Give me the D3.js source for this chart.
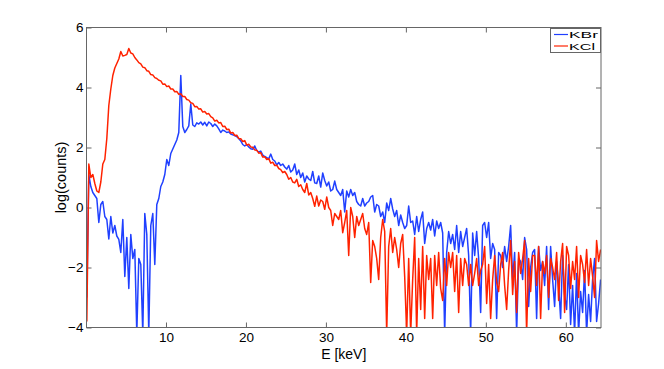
<!DOCTYPE html>
<html><head><meta charset="utf-8">
<script src="https://cdn.jsdelivr.net/npm/d3@7"></script>
<style>
html,body{margin:0;padding:0;background:#fff;}
svg{display:block;}
text{font-family:"Liberation Sans",Arial,Helvetica,sans-serif;fill:#000;}
</style>
</head><body>
<svg id="chart" width="664" height="369"></svg>
<script>
const energyKeV = [
0.1,0.35,0.6,0.85,1.1,1.35,1.6,1.85,
2.1,2.35,2.6,2.85,3.1,3.35,3.6,3.85,
4.1,4.35,4.6,4.85,5.1,5.35,5.6,5.85,
6.1,6.35,6.6,6.85,7.1,7.35,7.6,7.85,
8.1,8.35,8.6,8.85,9.1,9.35,9.6,9.85,
10.1,10.35,10.6,10.85,11.1,11.35,11.6,11.85,
12.1,12.35,12.6,12.85,13.1,13.35,13.6,13.85,
14.1,14.35,14.6,14.85,15.1,15.35,15.6,15.85,
16.1,16.35,16.6,16.85,17.1,17.35,17.6,17.85,
18.1,18.35,18.6,18.85,19.1,19.35,19.6,19.85,
20.1,20.35,20.6,20.85,21.1,21.35,21.6,21.85,
22.1,22.35,22.6,22.85,23.1,23.35,23.6,23.85,
24.1,24.35,24.6,24.85,25.1,25.35,25.6,25.85,
26.1,26.35,26.6,26.85,27.1,27.35,27.6,27.85,
28.1,28.35,28.6,28.85,29.1,29.35,29.6,29.85,
30.1,30.35,30.6,30.85,31.1,31.35,31.6,31.85,
32.1,32.35,32.6,32.85,33.1,33.35,33.6,33.85,
34.1,34.35,34.6,34.85,35.1,35.35,35.6,35.85,
36.1,36.35,36.6,36.85,37.1,37.35,37.6,37.85,
38.1,38.35,38.6,38.85,39.1,39.35,39.6,39.85,
40.1,40.35,40.6,40.85,41.1,41.35,41.6,41.85,
42.1,42.35,42.6,42.85,43.1,43.35,43.6,43.85,
44.1,44.35,44.6,44.85,45.1,45.35,45.6,45.85,
46.1,46.35,46.6,46.85,47.1,47.35,47.6,47.85,
48.1,48.35,48.6,48.85,49.1,49.35,49.6,49.85,
50.1,50.35,50.6,50.85,51.1,51.35,51.6,51.85,
52.1,52.35,52.6,52.85,53.1,53.35,53.6,53.85,
54.1,54.35,54.6,54.85,55.1,55.35,55.6,55.85,
56.1,56.35,56.6,56.85,57.1,57.35,57.6,57.85,
58.1,58.35,58.6,58.85,59.1,59.35,59.6,59.85,
60.1,60.35,60.6,60.85,61.1,61.35,61.6,61.85,
62.1,62.35,62.6,62.85,63.1,63.35,63.6,63.85,
64.1,64.35
];

const kbrLogCounts = [
-3.0,1.1,0.7,0.5,0.4,0.3,-0.5,0.1,
0.2,-0.3,-0.4,-1.05,-0.3,-0.85,-0.6,-0.95,
-1.06,-1.5,-0.4,-2.3,-1.0,-2.7,-0.9,-1.7,
-1.4,-4.2,-1.7,-1.9,-4.2,-0.2,-0.9,-4.2,
-0.6,-0.2,-1.9,0.1,0.3,0.7,0.85,1.1,
1.6,1.4,1.8,1.95,2.1,2.25,2.5,4.4,
2.7,2.5,2.6,2.72,3.45,2.75,2.7,2.82,
2.78,2.85,2.75,2.84,2.72,2.85,2.8,2.7,
2.78,2.72,2.62,2.5,2.58,2.55,2.5,2.52,
2.45,2.42,2.4,2.36,2.3,2.22,2.1,2.05,
2.1,2.02,1.96,1.94,2.05,1.9,1.85,1.88,
1.75,1.7,1.66,1.62,1.78,1.6,1.55,1.42,
1.5,1.4,1.45,1.35,1.28,1.4,1.18,1.25,
1.45,1.1,1.25,1.0,1.15,0.85,1.05,0.95,
0.9,1.2,0.82,0.8,1.05,0.68,1.15,0.9,
0.72,0.85,0.55,0.6,0.88,0.6,0.5,0.4,
0.6,-0.15,0.55,0.35,0.6,0.4,0.5,0.2,
0.1,0.05,0.3,0.05,0.15,0.2,0.35,0.4,
-0.15,0.1,0.05,-0.3,-0.15,-0.5,0.15,-0.1,
0.3,-0.05,-0.3,-0.1,-0.6,-0.25,-0.5,-0.7,
-0.6,0.05,-0.5,-0.45,-0.9,-0.3,-0.8,-0.4,
-0.15,-1.2,-0.7,-0.5,-0.75,-0.4,-0.95,-0.45,
-0.7,-0.5,-0.85,-4.2,-1.5,-0.8,-1.2,-0.9,
-1.4,-0.6,-1.5,-0.8,-1.3,-1.0,-0.7,-1.6,
-4.2,-0.85,-1.6,-0.8,-1.7,-3.5,-0.6,-0.5,
-1.0,-0.5,-1.7,-1.2,-1.4,-3.7,-1.5,-1.6,
-2.0,-1.3,-1.8,-1.3,-0.6,-2.4,-1.5,-4.2,
-1.7,-1.8,-2.4,-1.0,-1.4,-3.3,-2.0,-1.5,
-1.4,-3.7,-1.3,-2.1,-1.8,-2.6,-1.3,-3.4,
-1.3,-2.4,-3.3,-1.8,-2.6,-3.7,-1.6,-2.9,
-3.4,-1.9,-3.9,-2.6,-4.2,-2.2,-4.2,-2.8,
-3.5,-2.1,-4.2,-2.9,-3.8,-2.4,-1.7,-3.8,
-3.2,-2.4
];

const kclLogCounts = [
-3.8,1.45,1.0,1.1,0.8,0.55,0.5,0.85,
1.45,1.6,2.3,3.4,3.95,4.4,4.65,4.8,
4.95,5.2,5.05,5.07,5.1,5.3,5.15,5.12,
5.0,4.92,4.83,4.79,4.68,4.66,4.56,4.54,
4.43,4.42,4.33,4.3,4.24,4.22,4.11,4.12,
4.03,4.05,3.95,3.95,3.86,3.87,3.77,3.79,
3.7,3.7,3.6,3.58,3.49,3.47,3.36,3.37,
3.28,3.29,3.18,3.2,3.12,3.13,3.03,2.99,
2.88,2.91,2.82,2.83,2.7,2.71,2.6,2.61,
2.48,2.5,2.4,2.41,2.3,2.29,2.2,2.23,
2.08,2.11,2.02,2.01,1.92,1.91,1.81,1.83,
1.68,1.69,1.6,1.63,1.48,1.51,1.4,1.41,
1.3,1.26,1.16,1.2,1.1,0.94,1.0,0.85,
0.82,0.94,0.7,0.76,0.6,0.5,0.8,0.42,
0.5,0.3,0.04,0.38,0.05,0.25,0.2,-0.06,
0.35,0.0,-0.1,-0.6,-0.2,-0.3,-0.4,-0.1,
-0.84,-0.5,-0.1,-1.6,0.0,-0.3,-1.0,-0.3,
-0.6,-0.4,-0.2,-0.7,-0.9,-0.5,-2.5,-1.1,
-1.3,-1.7,-2.4,-1.0,-0.4,-0.8,-4.2,-1.3,
-0.7,-1.5,-1.0,-1.4,-2.0,-1.2,-0.9,-2.3,
-4.2,-1.7,-4.2,-2.4,-1.0,-4.2,-1.7,-3.4,
-1.3,-3.7,-1.6,-2.4,-1.7,-3.7,-1.6,-2.6,
-1.5,-2.7,-3.1,-1.7,-2.6,-1.5,-2.0,-1.5,
-2.8,-1.6,-3.5,-1.7,-2.6,-1.7,-1.9,-2.6,
-1.9,-2.6,-2.2,-1.7,-2.6,-2.1,-1.9,-1.3,
-3.2,-1.9,-3.7,-2.4,-1.6,-2.5,-2.8,-1.9,
-1.5,-2.6,-3.4,-2.1,-1.1,-2.9,-1.8,-3.5,
-1.5,-2.2,-1.7,-1.1,-4.2,-1.7,-2.8,-1.6,
-1.6,-2.6,-1.3,-3.7,-1.8,-2.2,-1.6,-3.0,
-1.7,-2.0,-2.4,-1.5,-3.1,-1.8,-1.2,-3.5,
-1.3,-1.6,-2.7,-1.8,-2.4,-1.3,-3.0,-1.6,
-1.9,-2.5,-1.4,-2.6,-1.7,-2.3,-3.0,-1.1,
-1.8,-1.4
];

const seriesNames = ["KBr", "KCl"];
const seriesColors = ["#2040ff", "#ff2200"];
const xTickValues = [10, 20, 30, 40, 50, 60];
const yTickValues = [-4, -2, 0, 2, 4, 6];
const xLabel = "E [keV]";
const yLabel = "log(counts)";

const box = {left: 86.5, right: 601, top: 27.5, bottom: 327.5};
const x = d3.scaleLinear().domain([0.06, 64.4]).range([box.left, box.right]);
const y = d3.scaleLinear().domain([-4, 6]).range([box.bottom, box.top]);

const svg = d3.select("#chart");
svg.append("rect").attr("width", 664).attr("height", 369).attr("fill", "#fff");

svg.append("defs").append("clipPath").attr("id", "plotclip")
  .append("rect").attr("x", box.left).attr("y", box.top)
  .attr("width", box.right - box.left).attr("height", box.bottom - box.top);

const axisColor = "#666";
function styleAxis(g) {
  g.select(".domain").remove();
  g.selectAll(".tick line").attr("stroke", axisColor);
  g.selectAll(".tick text").attr("font-size", 13.5).attr("fill", "#000")
    .attr("font-family", '"Liberation Sans", Arial, sans-serif');
}

svg.append("g").attr("transform", `translate(0,${box.bottom})`)
  .call(d3.axisBottom(x).tickValues(xTickValues).tickSize(-5).tickPadding(5))
  .call(styleAxis);
svg.append("g").attr("transform", `translate(0,${box.top})`)
  .call(d3.axisTop(x).tickValues(xTickValues).tickSize(-5).tickFormat(""))
  .call(styleAxis);
svg.append("g").attr("transform", `translate(${box.left},0)`)
  .call(d3.axisLeft(y).tickValues(yTickValues).tickSize(-5).tickPadding(3)
    .tickFormat(d => d < 0 ? "\u2212" + Math.abs(d) : String(d)))
  .call(styleAxis);
svg.append("g").attr("transform", `translate(${box.right},0)`)
  .call(d3.axisRight(y).tickValues(yTickValues).tickSize(-5).tickFormat(""))
  .call(styleAxis);

const plot = svg.append("g").attr("clip-path", "url(#plotclip)");
const line = d3.line().x((d, i) => x(energyKeV[i])).y(d => y(d));
[kbrLogCounts, kclLogCounts].forEach((vals, k) => {
  plot.append("path").datum(vals)
    .attr("fill", "none").attr("stroke", seriesColors[k])
    .attr("stroke-width", 1.5).attr("stroke-linejoin", "round")
    .attr("d", line);
});

svg.append("rect").attr("x", box.left).attr("y", box.top)
  .attr("width", box.right - box.left).attr("height", box.bottom - box.top)
  .attr("fill", "none").attr("stroke", axisColor).attr("stroke-width", 1);

svg.append("text").attr("x", (box.left + box.right) / 2).attr("y", 359)
  .attr("text-anchor", "middle").attr("font-size", 14).text(xLabel);
svg.append("text").attr("transform", `translate(66,${(box.top + box.bottom) / 2}) rotate(-90)`)
  .attr("text-anchor", "middle").attr("font-size", 14.5).text(yLabel);

const leg = svg.append("g");
leg.append("rect").attr("x", 550.5).attr("y", 28.5).attr("width", 50).attr("height", 24)
  .attr("fill", "#fff").attr("stroke", axisColor);
const legendWidths = [29, 26];
seriesNames.forEach((name, k) => {
  const ly = 34.5 + k * 11.5;
  leg.append("line").attr("x1", 554).attr("x2", 568).attr("y1", ly).attr("y2", ly)
    .attr("stroke", seriesColors[k]).attr("stroke-width", 1.2);
  leg.append("text").attr("x", 569).attr("y", ly + 3.6).attr("font-size", 9.5)
    .attr("textLength", legendWidths[k]).attr("lengthAdjust", "spacingAndGlyphs")
    .text(name);
});
</script>
</body></html>
